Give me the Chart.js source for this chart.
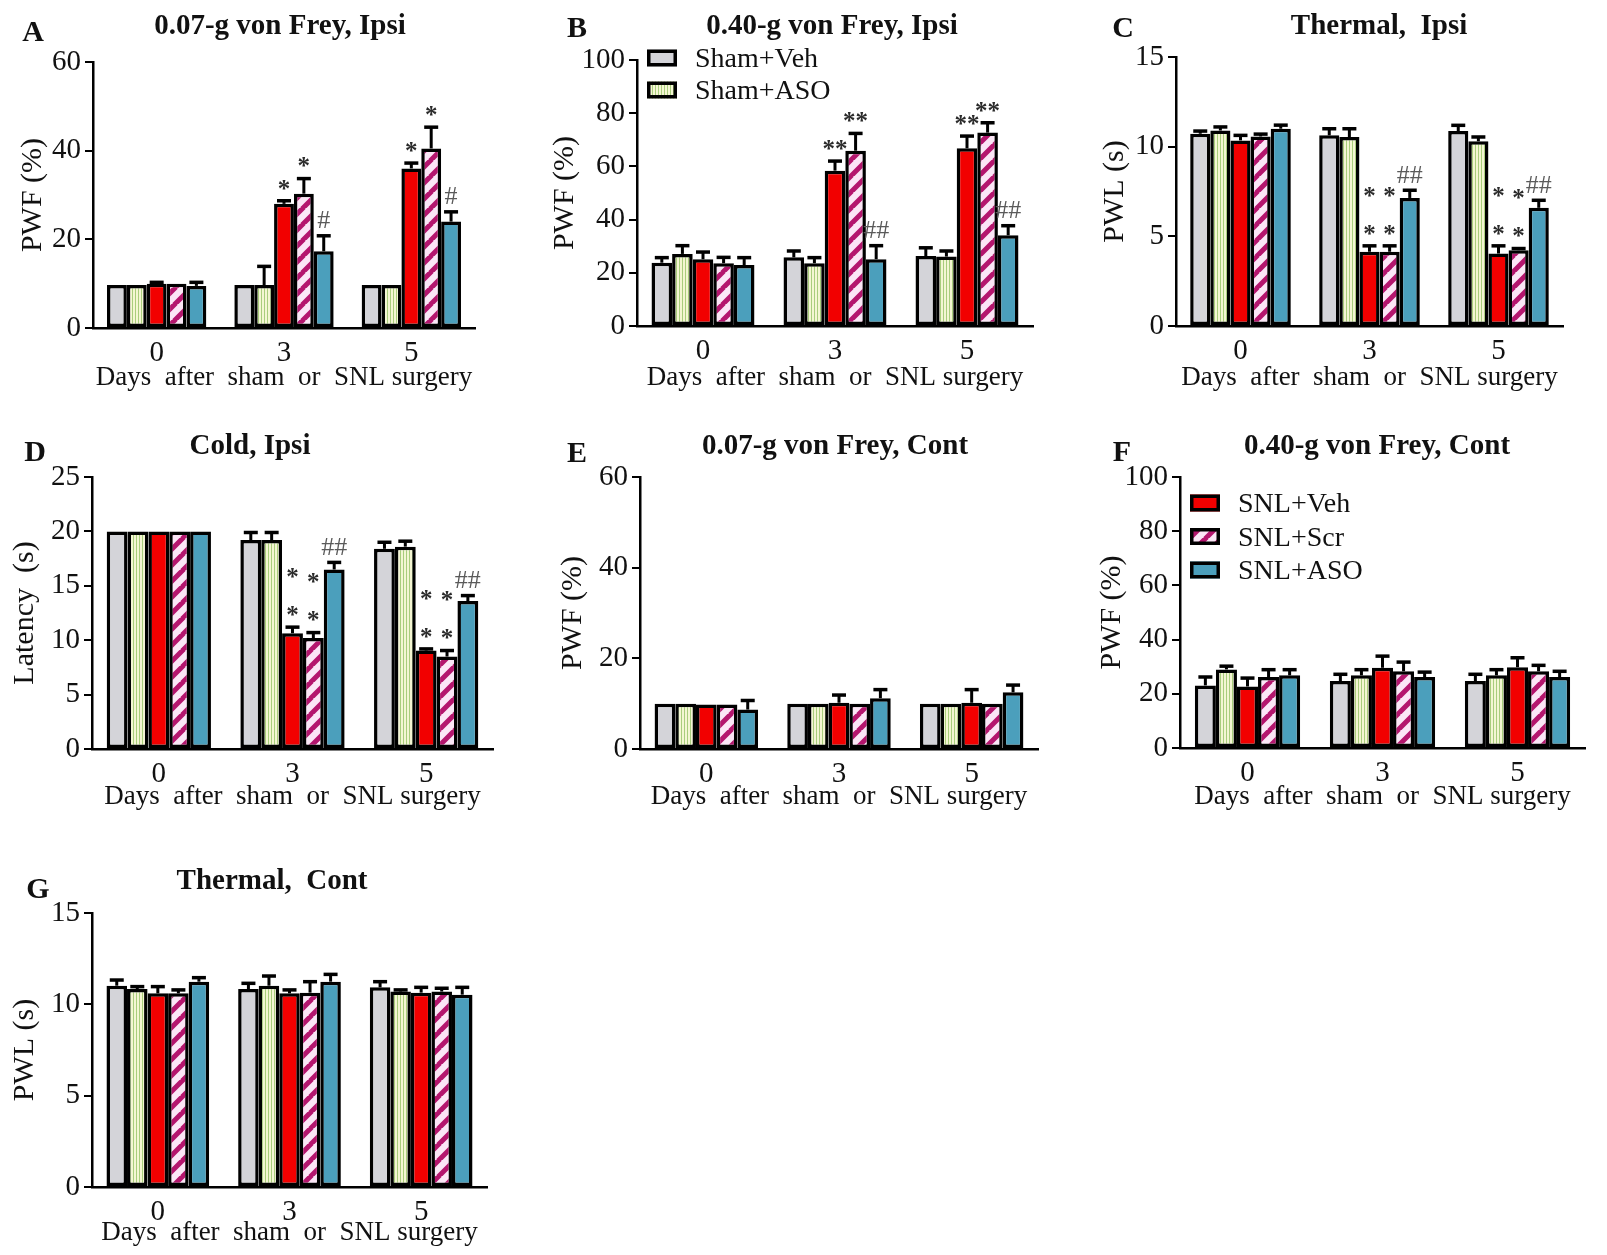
<!DOCTYPE html>
<html>
<head>
<meta charset="utf-8">
<title>Pain behaviour panels</title>
<script src="https://cdn.jsdelivr.net/npm/chart.js@4.4.1/dist/chart.umd.min.js"></script>
<style>
  html, body { margin: 0; padding: 0; background: #fff; }
  body { width: 1607px; height: 1255px; position: relative; overflow: hidden; }
  canvas { position: absolute; }
</style>
</head>
<body>
<canvas id="chartA"></canvas>
<canvas id="chartB"></canvas>
<canvas id="chartC"></canvas>
<canvas id="chartD"></canvas>
<canvas id="chartE"></canvas>
<canvas id="chartF"></canvas>
<canvas id="chartG"></canvas>
<script>
// shared
const categories = ['0', '3', '5'];
const seriesNames = ['Sham+Veh', 'Sham+ASO', 'SNL+Veh', 'SNL+Scr', 'SNL+ASO'];
const xTitle = 'Days  after  sham  or  SNL surgery';

// rows follow seriesNames, columns follow categories
// A: 0.07-g von Frey, Ipsi
const meanA = [[9.7, 9.7, 9.7], [9.7, 9.7, 9.7], [10, 28, 36], [10, 30.3, 40.5], [9.5, 17.3, 24]];
const semA = [[0, 0, 0], [0, 4.2, 0], [0.3, 0.7, 1.2], [0, 3.4, 4.8], [0.8, 3.5, 2.2]];
const sigA = [['', '', ''], ['', '', ''], ['', '*', '*'], ['', '*', '*'], ['', '#', '#']];

// B: 0.40-g von Frey, Ipsi
const meanB = [[23.8, 25.8, 26.3], [27.1, 23.6, 26.1], [25.1, 58.4, 66.8], [23.6, 65.9, 72.7], [22.9, 25.1, 34.1]];
const semB = [[1.9, 2.4, 3.1], [3.1, 2.1, 2.1], [2.7, 3.6, 4.6], [2.2, 6.5, 3.7], [2.8, 5.1, 3.6]];
const sigB = [['', '', ''], ['', '', ''], ['', '**', '**'], ['', '**', '**'], ['', '##', '##']];

// C: Thermal, Ipsi
const meanC = [[10.72, 10.63, 10.87], [10.9, 10.54, 10.3], [10.35, 4.14, 4.04], [10.57, 4.14, 4.23], [11.0, 7.14, 6.59]];
const semC = [[0.15, 0.37, 0.32], [0.2, 0.46, 0.24], [0.28, 0.33, 0.43], [0.13, 0.33, 0.09], [0.2, 0.43, 0.42]];
const sigC = [['', '', ''], ['', '', ''], ['', '*\n*', '*\n*'], ['', '*\n*', '*\n*'], ['', '##', '##']];

// D: Cold, Ipsi
const meanD = [[20, 19.2, 18.4], [20, 19.2, 18.6], [20, 10.64, 9.05], [20, 10.2, 8.5], [20, 16.5, 13.6]];
const semD = [[0, 0.7, 0.6], [0, 0.7, 0.5], [0, 0.56, 0.15], [0, 0.5, 0.55], [0, 0.65, 0.5]];
const sigD = [['', '', ''], ['', '', ''], ['', '*\n*', '*\n*'], ['', '*\n*', '*\n*'], ['', '##', '##']];

// E: 0.07-g von Frey, Cont
const meanE = [[10, 10, 10], [10, 10, 10], [9.8, 10.2, 10.2], [9.8, 10, 10], [8.7, 11.2, 12.5]];
const semE = [[0, 0, 0], [0, 0, 0], [0, 1.7, 2.9], [0, 0, 0], [2, 1.9, 1.6]];

// F: 0.40-g von Frey, Cont
const meanF = [[23.1, 24.7, 24.7], [29.0, 26.8, 26.8], [22.7, 29.6, 29.8], [26.2, 28.3, 28.3], [26.8, 26.2, 26.2]];
const semF = [[3.1, 2.5, 2.5], [1.2, 2.1, 2.1], [3.1, 4.3, 3.5], [2.7, 3.4, 2.2], [2.1, 1.8, 2.1]];

// G: Thermal, Cont
const meanG = [[11.02, 10.84, 10.93], [10.84, 11.02, 10.7], [10.6, 10.6, 10.64], [10.6, 10.64, 10.7], [11.24, 11.24, 10.53]];
const semG = [[0.31, 0.31, 0.31], [0.13, 0.53, 0.09], [0.37, 0.19, 0.29], [0.19, 0.6, 0.18], [0.22, 0.4, 0.4]];

const FONT = "'Liberation Serif', 'Times New Roman', serif";
Chart.defaults.font.family = FONT;
Chart.defaults.color = '#111';

// fills
function stripes(vertical) {
    const c = document.createElement('canvas');
    const g = c.getContext('2d');
    if (vertical) {
        c.width = 3; c.height = 3;
        g.fillStyle = '#f4f6d2';
        g.fillRect(0, 0, 3, 3);
        g.fillStyle = '#a9cd7c';
        g.fillRect(0, 0, 1, 3);
    } else {
        const s = 16;
        c.width = s; c.height = s;
        g.fillStyle = '#fbe6f6';
        g.fillRect(0, 0, s, s);
        g.strokeStyle = '#b4166e';
        g.lineWidth = 5;
        g.beginPath();
        for (const k of [-s, 0, s]) {
            g.moveTo(k - 1, s + 1);
            g.lineTo(k + s + 1, -1);
        }
        g.stroke();
    }
    return g.createPattern(c, 'repeat');
}
const fills = ['#d4d4d9', stripes(true), '#f20000', stripes(false), '#4b9fbc'];

// error bars + significance marks
const errorBars = {
    id: 'errorBars',
    afterDatasetsDraw(chart) {
        const ctx = chart.ctx;
        const y = chart.scales.y;
        ctx.save();
        chart.data.datasets.forEach((ds, i) => {
            const meta = chart.getDatasetMeta(i);
            meta.data.forEach((bar, j) => {
                const e = ds.err ? ds.err[j] : 0;
                let top = bar.y;
                if (e > 0) {
                    top = y.getPixelForValue(ds.data[j] + e);
                    ctx.strokeStyle = '#000';
                    ctx.lineWidth = 3;
                    ctx.beginPath();
                    ctx.moveTo(bar.x, bar.y);
                    ctx.lineTo(bar.x, top);
                    ctx.stroke();
                    ctx.lineWidth = 3.5;
                    ctx.beginPath();
                    ctx.moveTo(bar.x - 7, top);
                    ctx.lineTo(bar.x + 7, top);
                    ctx.stroke();
                }
                const s = ds.sig ? ds.sig[j] : '';
                if (!s) return;
                ctx.textAlign = 'center';
                ctx.textBaseline = 'alphabetic';
                s.split('\n').forEach((line, k) => {
                    const star = line.indexOf('*') >= 0;
                    const fs = star ? 25 : 26;
                    ctx.font = (star ? 'bold ' : '') + fs + 'px ' + FONT;
                    ctx.fillStyle = star ? '#2b2b2b' : '#5a5a5a';
                    const cy = top - 16 - k * 38;
                    ctx.fillText(line, bar.x, cy + (star ? 0.47 : 0.33) * fs);
                });
            });
        });
        ctx.restore();
    }
};

// panel letter, title and inline legend
const panelText = {
    id: 'panelText',
    afterDraw(chart) {
        const p = chart.options.plugins.panelText;
        const ctx = chart.ctx;
        ctx.save();
        ctx.fillStyle = '#111';
        ctx.textBaseline = 'alphabetic';
        ctx.textAlign = 'center';
        ctx.font = 'bold 30px ' + FONT;
        ctx.fillText(p.letter, p.letterX - p.L, p.letterY - p.T + 0.33 * 30);
        ctx.font = 'bold 29px ' + FONT;
        ctx.fillText(p.title, p.titleX - p.L, p.titleY - p.T + 0.33 * 29);
        if (p.legend) {
            const a = chart.chartArea;
            ctx.font = '28px ' + FONT;
            ctx.textAlign = 'left';
            p.legend.items.forEach((idx, k) => {
                const cy = a.top + p.legend.y + k * p.legend.gap;
                const bx = a.left + p.legend.x;
                ctx.fillStyle = fills[idx];
                ctx.fillRect(bx, cy - 8.5, 30, 17);
                ctx.strokeStyle = '#000';
                ctx.lineWidth = 3.5;
                ctx.strokeRect(bx + 1.75, cy - 6.75, 26.5, 13.5);
                ctx.fillStyle = '#111';
                ctx.fillText(seriesNames[idx], bx + 48, cy + 0.33 * 28);
            });
        }
        ctx.restore();
    }
};

function makePanel(id, p, means, sems, sigs) {
    const W = p.xEnd + 4 - p.L;
    const H = p.yZero - p.T + p.xh;
    const cv = document.getElementById(id);
    cv.width = W; cv.height = H;
    cv.style.left = p.L + 'px';
    cv.style.top = p.T + 'px';
    cv.style.width = W + 'px';
    cv.style.height = H + 'px';

    const datasets = seriesNames.map((name, i) => ({
        label: name,
        data: means[i],
        err: sems[i],
        sig: sigs ? sigs[i] : null,
        backgroundColor: fills[i],
        borderColor: '#000',
        borderWidth: 3.5,
        borderSkipped: false,
        categoryPercentage: 0.78,
        barPercentage: 1
    }));

    return new Chart(cv.getContext('2d'), {
        type: 'bar',
        data: { labels: categories, datasets: datasets },
        options: {
            responsive: false,
            animation: false,
            devicePixelRatio: 1,
            layout: { padding: { top: p.yTop - p.T, right: 4, bottom: 0, left: 0 } },
            plugins: {
                legend: { display: false },
                tooltip: { enabled: false },
                panelText: p
            },
            scales: {
                x: {
                    grid: { display: false },
                    border: { display: true, color: '#000', width: 2.5 },
                    ticks: { font: { size: 29 }, padding: 0, color: '#111' },
                    title: { display: true, text: xTitle, font: { size: 27 }, padding: 0, color: '#111' },
                    afterFit: s => { s.height = p.xh; }
                },
                y: {
                    min: 0,
                    max: p.max,
                    ticks: { stepSize: p.step, font: { size: 29 }, padding: 4, color: '#111' },
                    grid: { drawOnChartArea: false, drawTicks: true, tickLength: 8, color: '#000', lineWidth: 2 },
                    border: { display: true, color: '#000', width: 2.5 },
                    title: { display: true, text: p.yTitle, font: { size: 30 }, padding: 0, color: '#111' },
                    afterFit: s => { s.width = p.yAxis - p.L; }
                }
            }
        },
        plugins: [errorBars, panelText]
    });
}

document.addEventListener('DOMContentLoaded', function () {
    makePanel('chartA', { letter: 'A', title: '0.07-g von Frey, Ipsi', yTitle: 'PWF (%)', max: 60, step: 20,
        L: 15, T: 0, yAxis: 93, xEnd: 475, yTop: 62, yZero: 328, xh: 66,
        titleX: 280, titleY: 24, letterX: 33, letterY: 31 }, meanA, semA, sigA);
    makePanel('chartB', { letter: 'B', title: '0.40-g von Frey, Ipsi', yTitle: 'PWF (%)', max: 100, step: 20,
        L: 547, T: 0, yAxis: 637, xEnd: 1033, yTop: 60, yZero: 326, xh: 68,
        titleX: 832, titleY: 24, letterX: 577, letterY: 27,
        legend: { items: [0, 1], x: 10, y: -2, gap: 32 } }, meanB, semB, sigB);
    makePanel('chartC', { letter: 'C', title: 'Thermal,  Ipsi', yTitle: 'PWL (s)', max: 15, step: 5,
        L: 1097, T: 0, yAxis: 1176, xEnd: 1563, yTop: 57, yZero: 326, xh: 68,
        titleX: 1379, titleY: 24, letterX: 1123, letterY: 27 }, meanC, semC, sigC);
    makePanel('chartD', { letter: 'D', title: 'Cold, Ipsi', yTitle: 'Latency  (s)', max: 25, step: 5,
        L: 7, T: 410, yAxis: 92, xEnd: 493, yTop: 477, yZero: 749, xh: 64,
        titleX: 250, titleY: 444, letterX: 35, letterY: 451 }, meanD, semD, sigD);
    makePanel('chartE', { letter: 'E', title: '0.07-g von Frey, Cont', yTitle: 'PWF (%)', max: 60, step: 20,
        L: 555, T: 410, yAxis: 640, xEnd: 1038, yTop: 477, yZero: 749, xh: 64,
        titleX: 835, titleY: 444, letterX: 577, letterY: 452 }, meanE, semE, null);
    makePanel('chartF', { letter: 'F', title: '0.40-g von Frey, Cont', yTitle: 'PWF (%)', max: 100, step: 20,
        L: 1094, T: 410, yAxis: 1180, xEnd: 1585, yTop: 477, yZero: 748, xh: 65,
        titleX: 1377, titleY: 444, letterX: 1122, letterY: 451,
        legend: { items: [2, 3, 4], x: 10, y: 26, gap: 33.5 } }, meanF, semF, null);
    makePanel('chartG', { letter: 'G', title: 'Thermal,  Cont', yTitle: 'PWL (s)', max: 15, step: 5,
        L: 7, T: 840, yAxis: 92, xEnd: 487, yTop: 913, yZero: 1187, xh: 62,
        titleX: 272, titleY: 879, letterX: 38, letterY: 888 }, meanG, semG, null);
});
</script>
</body>
</html>
